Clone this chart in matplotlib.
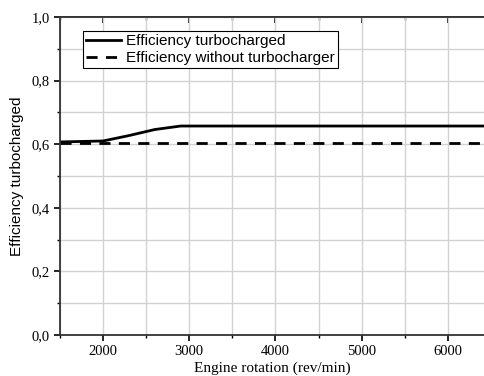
import numpy as np
import matplotlib
matplotlib.use("Agg")
import matplotlib.pyplot as plt
from matplotlib.ticker import MultipleLocator, FuncFormatter, NullFormatter

# engine speed (rev/min) and efficiency values
rpm = [1500, 2000, 2300, 2600, 2900, 3500, 4000, 4500, 5000, 5500, 6000, 6500]
eff_turbo = [0.607, 0.610, 0.627, 0.646, 0.657, 0.657, 0.657, 0.657, 0.657, 0.657, 0.657, 0.657]
eff_plain = [0.604, 0.604, 0.604, 0.604, 0.604, 0.604, 0.604, 0.604, 0.604, 0.604, 0.604, 0.604]

SERIF = ["Liberation Serif", "DejaVu Serif"]
SANS = ["Liberation Sans", "DejaVu Sans"]

fig = plt.figure(figsize=(4.84, 3.76), dpi=100)
ax = fig.add_axes([0.124, 0.109, 0.876, 0.846])

ax.plot(rpm, eff_turbo, color="black", lw=2.0, label="Efficiency turbocharged")
ax.plot(rpm, eff_plain, color="black", lw=2.0, ls=(0, (4, 3)),
        label="Efficiency without turbocharger")

ax.set_xlim(1500, 6420)
ax.set_ylim(0, 1.0)
ax.xaxis.set_major_locator(MultipleLocator(1000))
ax.xaxis.set_minor_locator(MultipleLocator(500))
ax.yaxis.set_major_locator(MultipleLocator(0.2))
ax.yaxis.set_minor_locator(MultipleLocator(0.1))
ax.yaxis.set_major_formatter(FuncFormatter(lambda v, p: f"{v:.1f}".replace(".", ",")))

ax.grid(True, which="both", color="#d2d2d2", lw=1.0)
ax.set_axisbelow(True)

ax.tick_params(which="major", direction="out", length=4, width=1.2, colors="black",
               labelsize=10.5)
ax.tick_params(which="minor", direction="out", length=2.5, width=1.0)
for lab in ax.get_xticklabels() + ax.get_yticklabels():
    lab.set_family(SERIF)

# top axis: short inward ticks, no labels
top = ax.secondary_xaxis("top")
top.xaxis.set_major_locator(MultipleLocator(1000))
top.xaxis.set_minor_locator(MultipleLocator(500))
top.xaxis.set_major_formatter(NullFormatter())
top.tick_params(which="major", direction="in", length=4, width=1.2)
top.tick_params(which="minor", direction="in", length=2.5, width=1.0)
top.spines["top"].set_linewidth(1.3)
top.spines["top"].set_color("#333333")

for side in ("left", "bottom", "top"):
    ax.spines[side].set_linewidth(1.3)
    ax.spines[side].set_color("#333333")
ax.spines["right"].set_visible(False)

ax.set_ylabel("Efficiency turbocharged", family=SANS, fontsize=11, labelpad=5)
ax.set_xlabel("Engine rotation (rev/min)", family=SERIF, fontsize=11, labelpad=2)

leg = ax.legend(loc="upper left", bbox_to_anchor=(0.054, 0.955), fancybox=False,
                edgecolor="black", framealpha=1, prop={"family": SANS, "size": 11},
                handlelength=2.3, borderpad=0.2, labelspacing=0.18,
                handletextpad=0.35, borderaxespad=0)
leg.get_frame().set_linewidth(0.8)

fig.savefig("out.png", dpi=100)
